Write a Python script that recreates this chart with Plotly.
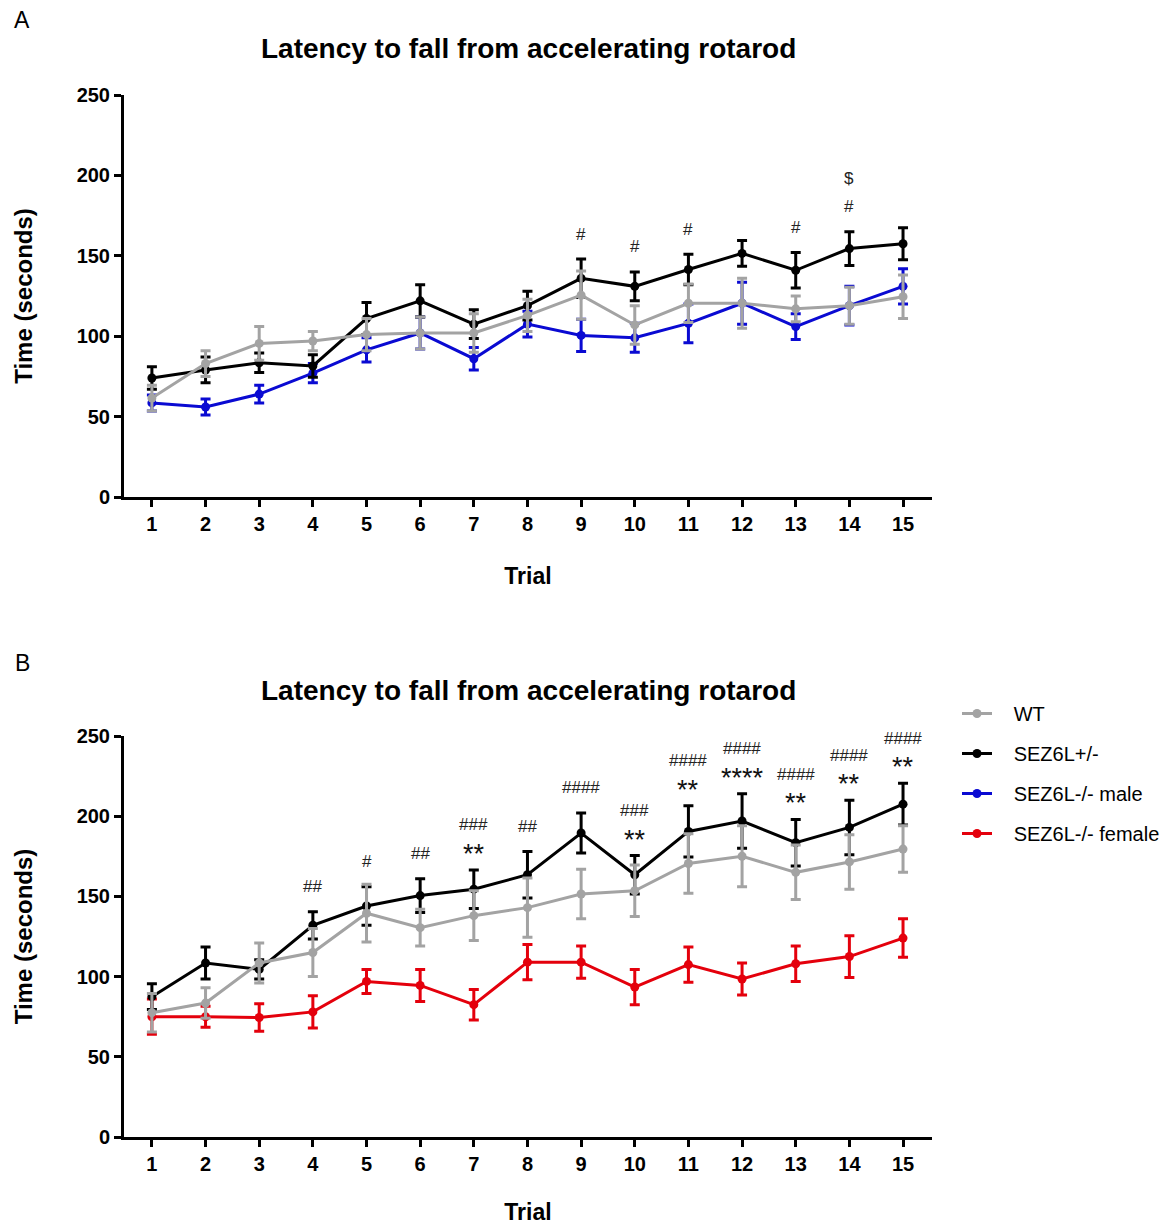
import plotly.graph_objects as go

trials = list(range(1, 16))

# Panel A
a_wt = [61.5, 83, 95.5, 97, 101, 102, 102, 113, 125.5, 107, 120.5, 120.5, 117, 119, 124.5]
a_wt_sem = [8, 8, 10.5, 6, 10, 10, 12, 10, 15, 12, 12, 15.5, 8, 11.5, 13.5]
a_het = [74, 79, 83.5, 81.5, 111, 122, 107.5, 119, 136, 131, 141.5, 151.5, 141, 154.5, 157.5]
a_het_sem = [7, 8, 6, 7, 10, 10, 9, 9, 12, 9, 9.5, 8, 11, 10.5, 10]
a_male = [58.5, 56, 64, 77, 91.5, 102, 86, 107.5, 100.5, 99, 108, 120.5, 106, 119, 131]
a_male_sem = [5, 5, 5.5, 6, 7.5, 10, 7, 8, 10, 9, 12, 13, 8, 12, 11]
a_hash = ["", "", "", "", "", "", "", "", "#", "#", "#", "", "#", "#", ""]
a_dollar = ["", "", "", "", "", "", "", "", "", "", "", "", "", "$", ""]

# Panel B
b_wt = [77.5, 83.5, 108.5, 115, 139.5, 130.5, 138, 143, 151.5, 153.5, 170.5, 175, 165, 171.5, 179.5]
b_wt_sem = [12, 9.5, 12.5, 15, 18, 11.5, 15.5, 18.5, 15.5, 16, 18.5, 19, 17, 17, 14.5]
b_het = [87.5, 108.5, 104.5, 132, 144, 150.5, 154.5, 163.5, 189.5, 163.5, 190.5, 197, 183.5, 193, 207.5]
b_het_sem = [8, 10, 6, 8.5, 12, 10.5, 12, 14.5, 12.5, 12, 16, 17, 14.5, 17, 13]
b_female = [75, 75, 74.5, 78, 97, 94.5, 82.5, 109, 109, 93.5, 107.5, 98.5, 108, 112.5, 124]
b_female_sem = [11, 6.5, 8.5, 10, 7.5, 10, 9.5, 11, 10, 11, 11, 10, 11, 13, 12]
b_hash = ["", "", "", "##", "#", "##", "###", "##", "####", "###", "####", "####", "####", "####", "####"]
b_star = ["", "", "", "", "", "", "**", "", "", "**", "**", "****", "**", "**", "**"]

GRAY = "#A3A3A3"
BLACK = "#000000"
BLUE = "#0A0AD2"
RED = "#E4000C"

FONT = "Liberation Sans, Arial, sans-serif"
NB = "\u00a0\u00a0\u00a0"

W, H = 1161, 1225


def py(t):
    # pixel row from the top -> paper fraction
    return 1 - t / H


fig = go.Figure()


def add_series(y, sem, color, name, xa, ya, show, rank):
    fig.add_trace(go.Scatter(
        x=trials, y=y, name=NB + name, mode="lines+markers",
        line=dict(color=color, width=3),
        marker=dict(color=color, size=9, symbol="circle"),
        error_y=dict(type="data", array=sem, visible=True, color=color,
                     thickness=3, width=5),
        xaxis=xa, yaxis=ya, showlegend=show, legendrank=rank,
        legendgroup=f"{name}-{xa}",
    ))


# Panel A (top)
add_series(a_male, a_male_sem, BLUE, "SEZ6L-/- male", "x", "y", True, 3)
add_series(a_het, a_het_sem, BLACK, "SEZ6L+/-", "x", "y", True, 2)
add_series(a_wt, a_wt_sem, GRAY, "WT", "x", "y", True, 1)

# Panel B (bottom)
add_series(b_female, b_female_sem, RED, "SEZ6L-/- female", "x2", "y2", True, 4)
add_series(b_het, b_het_sem, BLACK, "SEZ6L+/-", "x2", "y2", False, 5)
add_series(b_wt, b_wt_sem, GRAY, "WT", "x2", "y2", False, 6)

annotations = []
HASH_FONT = dict(family=FONT, size=17, color="#222")
STAR_FONT = dict(family=FONT, size=27, color="#111")
# significance marks, panel A
for t, h, d, m, s in zip(trials, a_hash, a_dollar, a_het, a_het_sem):
    if h:
        annotations.append(dict(x=t, y=m + s, xref="x", yref="y", text=h,
                                showarrow=False, yshift=25, yanchor="middle",
                                font=HASH_FONT))
    if d:
        annotations.append(dict(x=t, y=m + s, xref="x", yref="y", text=d,
                                showarrow=False, yshift=53, yanchor="middle",
                                font=dict(family=FONT, size=17, color="#222")))
# significance marks, panel B
for t, h, st, m, s in zip(trials, b_hash, b_star, b_het, b_het_sem):
    if st:
        annotations.append(dict(x=t, y=m + s, xref="x2", yref="y2", text=st,
                                showarrow=False, yshift=16, yanchor="middle",
                                font=STAR_FONT))
        hs = 45
    else:
        hs = 25
    if h:
        annotations.append(dict(x=t, y=m + s, xref="x2", yref="y2", text=h,
                                showarrow=False, yshift=hs, yanchor="middle",
                                font=HASH_FONT))

title_text = "<b>Latency to fall from accelerating rotarod</b>"
annotations += [
    dict(x=0.5, y=py(48), xref="x domain", yref="paper", text=title_text, showarrow=False,
         font=dict(family=FONT, size=28, color="black"), yanchor="middle"),
    dict(x=0.5, y=py(690), xref="x2 domain", yref="paper", text=title_text, showarrow=False,
         font=dict(family=FONT, size=28, color="black"), yanchor="middle"),
    dict(x=22 / W, y=py(20), xref="paper", yref="paper", text="A", showarrow=False,
         xanchor="center", yanchor="middle",
         font=dict(family=FONT, size=23, color="black")),
    dict(x=22 / W, y=py(663), xref="paper", yref="paper", text="B", showarrow=False,
         xanchor="center", yanchor="middle",
         font=dict(family=FONT, size=23, color="black")),
]

xdom = [124 / W, 932 / W]
ydomA = [py(497), py(95)]
ydomB = [py(1137), py(736)]

axis_common = dict(
    showline=True, linecolor="black", linewidth=3, ticks="outside",
    ticklen=7, tickwidth=3, tickcolor="black", showgrid=False, zeroline=False,
    tickfont=dict(family=FONT, size=20, color="black", weight="bold"),
)
xaxis_common = dict(axis_common, range=[0.48, 15.54], tickmode="array",
                    tickvals=trials, ticktext=[str(t) for t in trials])
yaxis_common = dict(axis_common, range=[0, 250], tickmode="array",
                    tickvals=[0, 50, 100, 150, 200, 250])

xtitle = dict(text="<b>Trial</b>", standoff=34,
              font=dict(family=FONT, size=23, color="black"))
ytitle = dict(text="<b>Time (seconds)</b>", standoff=38,
              font=dict(family=FONT, size=24, color="black"))

fig.update_layout(
    width=W, height=H,
    margin=dict(l=0, r=0, t=0, b=0, autoexpand=False),
    paper_bgcolor="white", plot_bgcolor="white",
    xaxis=dict(xaxis_common, domain=xdom, anchor="y", title=xtitle, automargin=False),
    yaxis=dict(yaxis_common, domain=ydomA, anchor="x", title=ytitle, automargin=False),
    xaxis2=dict(xaxis_common, domain=xdom, anchor="y2", title=xtitle, automargin=False),
    yaxis2=dict(yaxis_common, domain=ydomB, anchor="x2", title=ytitle, automargin=False),
    legend=dict(x=957 / W, y=py(694), xanchor="left", yanchor="top",
                font=dict(family=FONT, size=20, color="black"),
                tracegroupgap=11, traceorder="grouped", bgcolor="rgba(0,0,0,0)"),
    annotations=annotations,
    showlegend=True,
)

fig.write_html("out.html")
